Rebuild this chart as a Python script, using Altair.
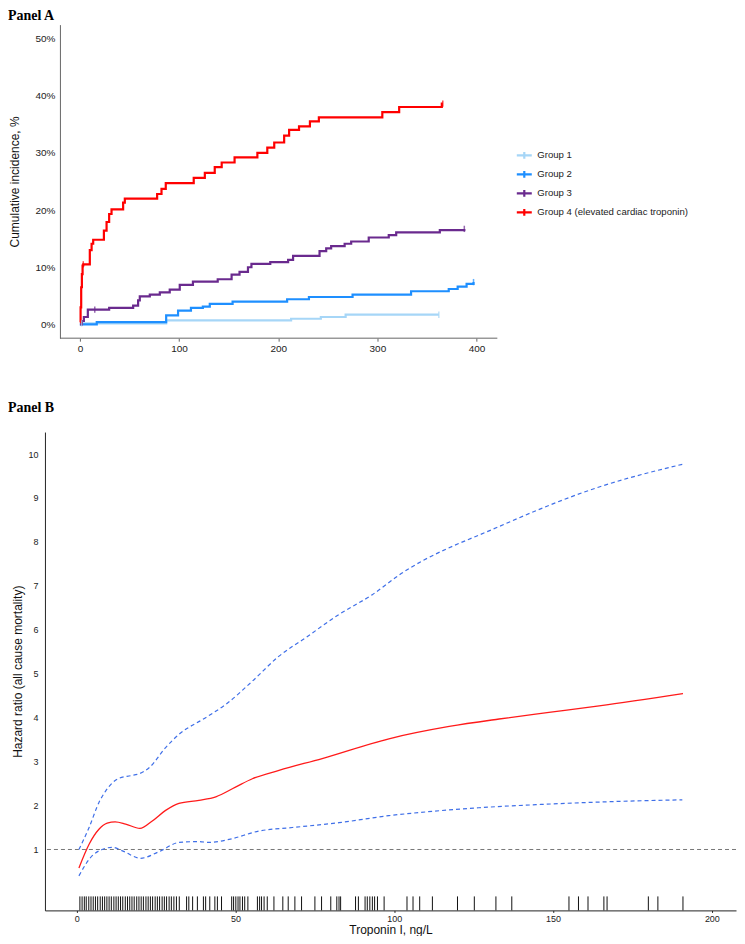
import altair as alt
import pandas as pd

# ---------------- Panel A: cumulative incidence (step curves) ----------------
groups = ["Group 1", "Group 2", "Group 3", "Group 4 (elevated cardiac troponin)"]
colors = ["#a6d6f7", "#1e8fff", "#6a2a8e", "#ff0000"]

g1_time = [0, 87, 213, 243, 268, 362]
g1_inc = [0.2, 0.7, 1.0, 1.3, 1.7, 1.7]

g2_time = [0, 17, 87, 99, 112, 124, 131, 154, 209, 231, 275, 334, 372, 381, 390, 397]
g2_inc = [0.0, 0.4, 1.6, 2.4, 2.9, 3.1, 3.6, 4.0, 4.4, 4.8, 5.2, 5.8, 6.2, 6.6, 7.1, 7.4]

g3_time = [0, 2, 4, 8, 29.5, 53.7, 58.7, 60.4, 70.5, 80.6, 90.6, 100.7, 114, 139, 153, 161,
           169.5, 173, 192, 210, 215, 241.7, 248.4, 253.4, 267, 273.6, 291.3, 311.5, 319, 363, 387.7]
g3_inc = [0.0, 0.6, 1.3, 2.6, 2.9, 3.3, 4.2, 4.9, 5.2, 5.6, 6.1, 6.9, 7.5, 7.9, 8.7, 9.2,
          10.0, 10.6, 10.9, 11.3, 12.0, 12.8, 13.3, 13.7, 14.1, 14.5, 15.2, 15.6, 16.1, 16.5, 16.7]

g4_time = [0, 0.7, 1.3, 2.0, 2.7, 3.4, 10, 11.8, 13.4, 24.2, 26.9, 29.5, 31.9, 43.6, 45.3,
           77.9, 82.3, 86.6, 114.8, 126, 136, 143, 156, 179, 189, 196, 206, 211, 221, 232,
           241, 305, 322, 365, 366]
g4_inc = [0.4, 3.0, 6.5, 8.8, 10.3, 10.5, 13.0, 14.1, 14.8, 16.4, 17.9, 19.3, 20.1, 21.3, 22.0,
          22.8, 23.7, 24.7, 25.6, 26.5, 27.5, 28.3, 29.2, 30.0, 30.9, 31.8, 33.0, 34.0, 34.6, 35.5,
          36.2, 37.1, 38.0, 38.6, 38.6]

# censoring marks ("+") on the curves
cens_group = ["Group 1", "Group 1", "Group 2", "Group 3", "Group 3",
              "Group 4 (elevated cardiac troponin)", "Group 4 (elevated cardiac troponin)"]
cens_time = [1.7, 362, 397, 15, 387.7, 3.4, 366]
cens_inc = [0.2, 1.7, 7.4, 2.6, 16.7, 10.5, 38.6]

a_x_ticks = [0, 100, 200, 300, 400]
a_y_ticks = [0, 10, 20, 30, 40, 50]
a_x_axis_span = [-20, 421]

rowsA = []
for name, ts, ys in zip(groups, [g1_time, g2_time, g3_time, g4_time], [g1_inc, g2_inc, g3_inc, g4_inc]):
    for t, y in zip(ts, ys):
        rowsA.append({"group": name, "time": t, "inc": y})
dfA = pd.DataFrame(rowsA)
dfCens = pd.DataFrame({"cgroup": cens_group, "time": cens_time, "inc": cens_inc})

A_W, A_H = 453, 314
xA_scale = alt.Scale(domain=[-35.25, 421], nice=False, zero=False)
yA_scale = alt.Scale(domain=[-2.4, 52.4], nice=False, zero=False)

linesA = alt.Chart(dfA).mark_line(interpolate="step-after", strokeWidth=2.2).encode(
    x=alt.X("time:Q", scale=xA_scale,
            axis=alt.Axis(values=a_x_ticks, title=None, grid=False, domain=False, tickSize=3,
                          labelPadding=2, tickColor="#666", labelFontSize=10,
                          labelFont="Liberation Sans", labelColor="#222")),
    y=alt.Y("inc:Q", scale=yA_scale,
            axis=alt.Axis(values=a_y_ticks, labelExpr="datum.value + '%'", offset=-15,
                          title="Cumulative incidence, %", grid=False, tickSize=0, labelPadding=5,
                          titlePadding=13, titleFontSize=12, titleFont="Liberation Sans",
                          titleFontWeight="normal", titleColor="#111",
                          domainColor="#666", labelFontSize=10, labelFont="Liberation Sans",
                          labelColor="#222")),
    color=alt.Color("group:N", scale=alt.Scale(domain=groups, range=colors),
                    legend=alt.Legend(title=None, orient="none", legendX=471, legendY=122,
                                      symbolType="M-1,0H1M0,-0.45V0.45", symbolSize=225,
                                      symbolStrokeWidth=2.2, labelFont="Liberation Sans",
                                      labelFontSize=9.6, labelColor="#222", labelOffset=4,
                                      rowPadding=2, padding=0)),
)

censA = alt.Chart(dfCens).mark_point(shape="M0,-1V1", size=40, strokeWidth=1.5, filled=False).encode(
    x=alt.X("time:Q", scale=xA_scale),
    y=alt.Y("inc:Q", scale=yA_scale),
    stroke=alt.Stroke("cgroup:N", scale=alt.Scale(domain=groups, range=colors), legend=None),
)

x_axis_line_A = alt.Chart(pd.DataFrame({"a": [a_x_axis_span[0]], "b": [a_x_axis_span[1]]})).mark_rule(
    color="#666", strokeWidth=1).encode(
    x=alt.X("a:Q", scale=xA_scale), x2="b:Q", y=alt.value(A_H))

panelA = alt.layer(linesA, censA, x_axis_line_A).resolve_scale(stroke="independent").properties(
    width=A_W, height=A_H,
    title=alt.TitleParams("Panel A", anchor="start", frame="group", dx=-37, offset=2,
                          font="Liberation Serif", fontSize=14, fontWeight="bold", color="#000"),
)

# ---------------- Panel B: spline hazard ratio ----------------
hr_x = [0.7, 3.9, 7.0, 9.6, 12.1, 15.4, 19.9, 23.8, 28.0, 32.2, 38.5, 43.8, 50.0, 55.3, 63.7,
        77.3, 98.3, 117.3, 133.0, 148.7, 164.5, 190.9]
hr_y = [0.58, 1.12, 1.46, 1.60, 1.63, 1.58, 1.48, 1.65, 1.89, 2.05, 2.12, 2.20, 2.42, 2.61, 2.80,
        3.07, 3.52, 3.80, 3.97, 4.12, 4.27, 4.55]

up_x = [0.7, 3.9, 7.0, 9.1, 13.3, 17.0, 19.6, 22.8, 28.0, 32.2, 40.6, 46.9, 55.3, 63.7, 72.1,
        82.6, 93.1, 101.6, 133.0, 164.5, 190.9]
up_y = [1.0, 1.5, 2.07, 2.33, 2.62, 2.68, 2.72, 2.86, 3.32, 3.62, 4.0, 4.30, 4.83, 5.40, 5.82,
        6.35, 6.80, 7.25, 8.35, 9.25, 9.77]

lo_x = [0.7, 4.9, 8.0, 11.2, 14.4, 20.1, 25.9, 32.2, 38.5, 41.6, 48.0, 57.4, 67.9, 82.6, 98.3,
        107.7, 126.6, 147.7, 168.6, 190.7]
lo_y = [0.40, 0.86, 1.0, 1.05, 0.97, 0.80, 0.95, 1.16, 1.18, 1.16, 1.23, 1.42, 1.50, 1.61, 1.77,
        1.84, 1.95, 2.03, 2.09, 2.13]

rug_x = [1.0, 1.7, 2.4, 3.0, 3.8, 4.5, 5.2, 5.9, 6.6, 7.4, 8.1, 8.8, 9.5, 10.2, 10.9, 11.7,
         12.4, 13.1, 13.8, 14.5, 15.3, 16.0, 16.7, 17.4, 18.1, 18.9, 19.6, 20.3, 21.0, 21.8,
         22.5, 23.2, 23.9, 24.7, 25.4, 26.1, 26.9, 27.6, 28.3, 29.1, 29.8, 30.6, 31.4, 32.3,
         34.6, 35.3, 36.5, 38.0, 39.9, 40.6, 41.9, 43.5, 44.3, 45.6, 48.8, 49.4, 50.1, 50.8,
         51.4, 52.2, 52.9, 53.9, 56.9, 57.6, 58.2, 59.0, 60.0, 62.1, 64.9, 66.6, 68.7, 70.8,
         75.0, 77.1, 80.0, 81.9, 82.6, 83.1, 87.8, 88.7, 90.8, 91.5, 92.3, 93.1, 93.8, 94.7,
         96.8, 104.0, 105.9, 108.0, 112.0, 119.9, 125.2, 132.0, 137.0, 155.0, 158.0, 161.0,
         166.0, 167.0, 180.0, 183.0, 190.9]

b_x_ticks = [0, 50, 100, 150, 200]
b_y_ticks = [1, 2, 3, 4, 5, 6, 7, 8, 9, 10]
ref_hr = [1]

B_W, B_H = 692, 479
RUG_LEN = 14

xB = alt.X("x:Q", scale=alt.Scale(domain=[-10, 207.6], nice=False, zero=False),
           axis=alt.Axis(values=b_x_ticks, title="Troponin I, ng/L", grid=False, tickSize=2,
                         labelPadding=2, titlePadding=1, domainColor="#222", tickColor="#222",
                         labelFontSize=9, labelFont="Liberation Sans", labelColor="#222",
                         titleFontSize=12, titleFont="Liberation Sans", titleFontWeight="normal",
                         titleColor="#111"))
yB = alt.Y("y:Q", scale=alt.Scale(domain=[-0.386, 10.5], nice=False, zero=False),
           axis=alt.Axis(values=b_y_ticks, title="Hazard ratio (all cause mortality)", grid=False,
                         tickSize=0, labelPadding=7, titlePadding=3, domainColor="#222",
                         labelFontSize=9, labelFont="Liberation Sans", labelColor="#222",
                         titleFontSize=12, titleFont="Liberation Sans", titleFontWeight="normal",
                         titleColor="#111"))

ref_layer = alt.Chart(pd.DataFrame({"y": ref_hr})).mark_rule(
    color="#777", strokeWidth=1, strokeDash=[4, 3]).encode(y=yB)
up_layer = alt.Chart(pd.DataFrame({"x": up_x, "y": up_y})).mark_line(
    interpolate="monotone", color="#3f6fe8", strokeWidth=1.2, strokeDash=[4, 3]).encode(x=xB, y=yB)
lo_layer = alt.Chart(pd.DataFrame({"x": lo_x, "y": lo_y})).mark_line(
    interpolate="monotone", color="#3f6fe8", strokeWidth=1.2, strokeDash=[4, 3]).encode(x=xB, y=yB)
hr_layer = alt.Chart(pd.DataFrame({"x": hr_x, "y": hr_y})).mark_line(
    interpolate="monotone", color="#ff1a1a", strokeWidth=1.3).encode(x=xB, y=yB)
rug_layer = alt.Chart(pd.DataFrame({"x": rug_x})).mark_rule(
    color="#111", strokeWidth=1).encode(x=xB, y=alt.value(B_H - RUG_LEN), y2=alt.value(B_H))

panelB = alt.layer(ref_layer, up_layer, lo_layer, hr_layer, rug_layer).properties(
    width=B_W, height=B_H,
    title=alt.TitleParams("Panel B", anchor="start", frame="group", dx=-37, offset=17,
                          font="Liberation Serif", fontSize=14, fontWeight="bold", color="#000"),
)

chart = alt.vconcat(panelA, panelB, spacing=48).properties(padding=0).configure_view(stroke=None)

chart.save("out.html", embed_options={"renderer": "svg", "actions": False})
